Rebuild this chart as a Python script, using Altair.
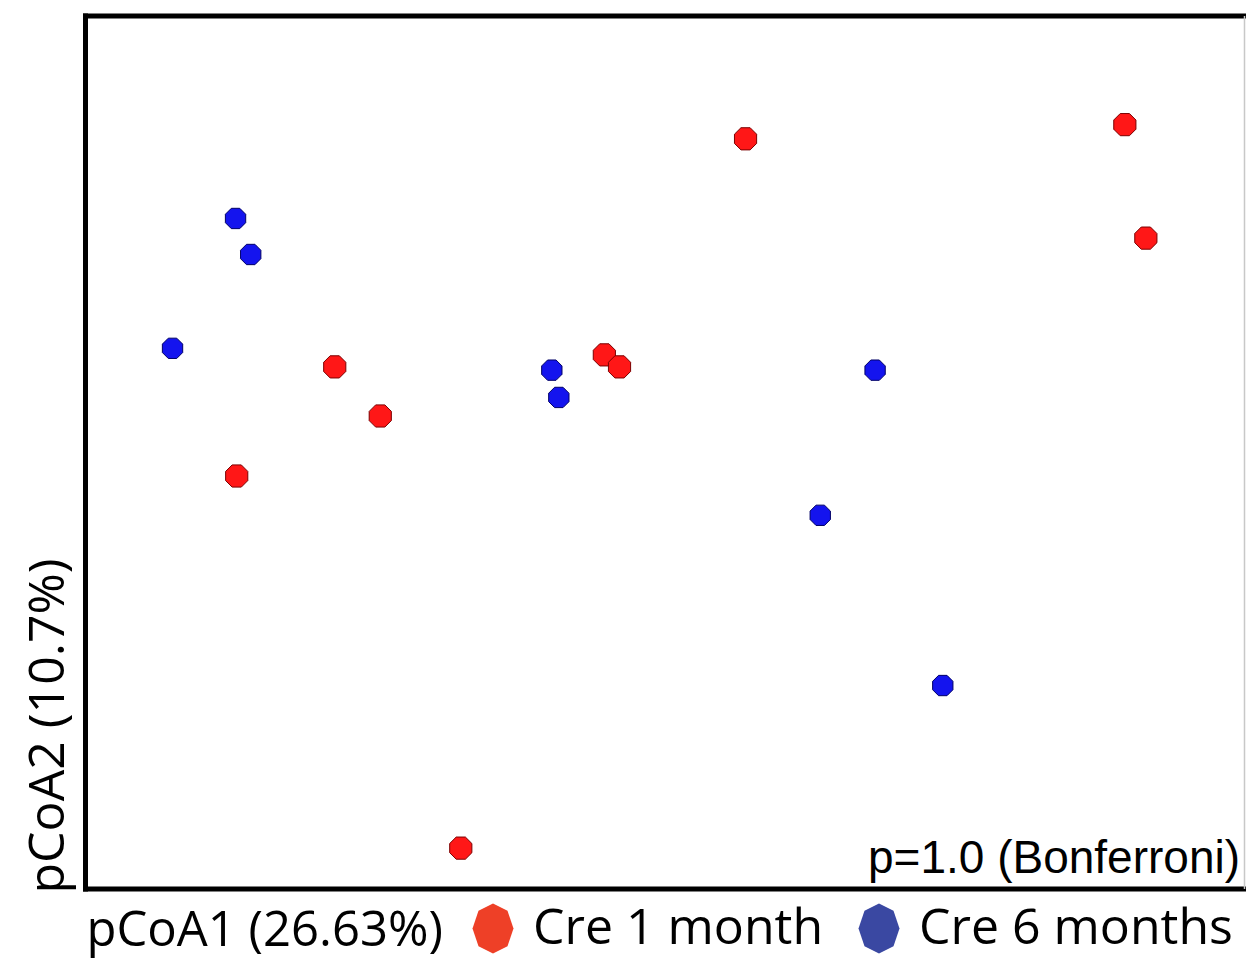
import altair as alt
import pandas as pd

# ---- data (arbitrary PCoA units) ----
group_names = ["Cre 1 month", "Cre 6 months"]
red_pc1 = [0.066, 0.391, 0.409, -0.286, -0.247, -0.370, -0.055, -0.042, -0.178]
red_pc2 = [0.287, 0.300, 0.196, 0.078, 0.033, -0.022, 0.089, 0.078, -0.363]
blue_pc1 = [-0.371, -0.358, -0.425, -0.100, -0.094, 0.177, 0.130, 0.235]
blue_pc2 = [0.214, 0.181, 0.095, 0.075, 0.050, 0.075, -0.058, -0.214]
x_title = "pCoA1 (26.63%)"
y_title = "pCoA2 (10.7%)"
note_text = ["p=1.0 (Bonferroni)"]

legend_colors = ["#ee4027", "#3a48a2"]

df = pd.DataFrame({
    "pc1": red_pc1 + blue_pc1,
    "pc2": red_pc2 + blue_pc2,
    "group": [group_names[0]] * len(red_pc1) + [group_names[1]] * len(blue_pc1),
})

POINT_OCT = ("M0.383,-0.924L0.924,-0.383L0.924,0.383L0.383,0.924L-0.383,0.924"
             "L-0.924,0.383L-0.924,-0.383L-0.383,-0.924Z")
LEGEND_OCT = "M0,-1L0.58,-0.707L0.82,0L0.58,0.707L0,1L-0.58,0.707L-0.82,0L-0.58,-0.707Z"

W, H = 1159, 873
FONT = "Open Sans"

xs = alt.Scale(domain=[-0.5, 0.4931], nice=False, zero=False)
ys = alt.Scale(domain=[-0.4, 0.4], nice=False, zero=False)

base = alt.Chart(df)

# invisible layer that carries the legend (legend symbols use their own opacity)
legend_layer = base.mark_point(filled=True, shape=POINT_OCT, opacity=0, strokeWidth=0, size=2500).encode(
    x=alt.X("pc1:Q", scale=xs, title=None,
            axis=alt.Axis(orient="top", domain=True, domainWidth=5, domainColor="black",
                          domainCap="square", ticks=False, labels=False, grid=False)),
    y=alt.Y("pc2:Q", scale=ys, title=None,
            axis=alt.Axis(orient="right", domain=True, domainWidth=1.5, domainColor="#c8c8c8",
                          ticks=False, labels=False, grid=False)),
    color=alt.Color("group:N", scale=alt.Scale(domain=group_names, range=legend_colors),
                    legend=alt.Legend(orient="none", legendX=383, legendY=888,
                                      direction="horizontal", title=None, padding=0,
                                      symbolType=LEGEND_OCT, symbolSize=2500,
                                      symbolStrokeWidth=0, symbolOpacity=1,
                                      labelFont=FONT, labelFontSize=50, labelColor="black",
                                      labelOffset=15, columnPadding=30, labelLimit=1000)),
)

red_points = base.transform_filter(alt.datum.group == group_names[0]).mark_point(
    filled=True, shape=POINT_OCT, opacity=1, size=576,
    fill="#ff1717", stroke="#7a0000", strokeWidth=1,
).encode(
    x=alt.X("pc1:Q", scale=xs, title=x_title,
            axis=alt.Axis(orient="bottom", domain=True, domainWidth=5, domainColor="black",
                          domainCap="square", ticks=False, labels=False, grid=False,
                          titleX=1, titleY=56.5, titleAlign="left", titleBaseline="alphabetic",
                          titleFont=FONT, titleFontSize=49, titleFontWeight="normal",
                          titleColor="black")),
    y=alt.Y("pc2:Q", scale=ys, title=y_title,
            axis=alt.Axis(orient="left", domain=True, domainWidth=5, domainColor="black",
                          domainCap="square", ticks=False, labels=False, grid=False,
                          titleX=-22, titleY=877.5, titleAngle=270, titleAlign="left",
                          titleBaseline="alphabetic", titleFont=FONT, titleFontSize=50,
                          titleFontWeight="normal", titleColor="black")),
)

blue_points = base.transform_filter(alt.datum.group == group_names[1]).mark_point(
    filled=True, shape=POINT_OCT, opacity=1, size=484,
    fill="#1414ee", stroke="#000066", strokeWidth=1,
).encode(
    x=alt.X("pc1:Q", scale=xs, axis=None),
    y=alt.Y("pc2:Q", scale=ys, axis=None),
)

note = alt.Chart(pd.DataFrame({"t": note_text})).mark_text(
    align="right", baseline="alphabetic", font="Liberation Sans", fontSize=46, color="black"
).encode(x=alt.value(1155), y=alt.value(857.5), text="t:N")

chart = alt.layer(legend_layer, red_points, blue_points, note).resolve_axis(
    x="independent", y="independent"
).properties(
    width=W, height=H,
    autosize=alt.AutoSizeParams(type="none"),
    padding={"left": 77, "top": 7.5, "right": 2, "bottom": 69.5},
    background="white",
).configure_view(stroke=None)

chart.save("out.html", embed_options={"renderer": "svg", "actions": False})
